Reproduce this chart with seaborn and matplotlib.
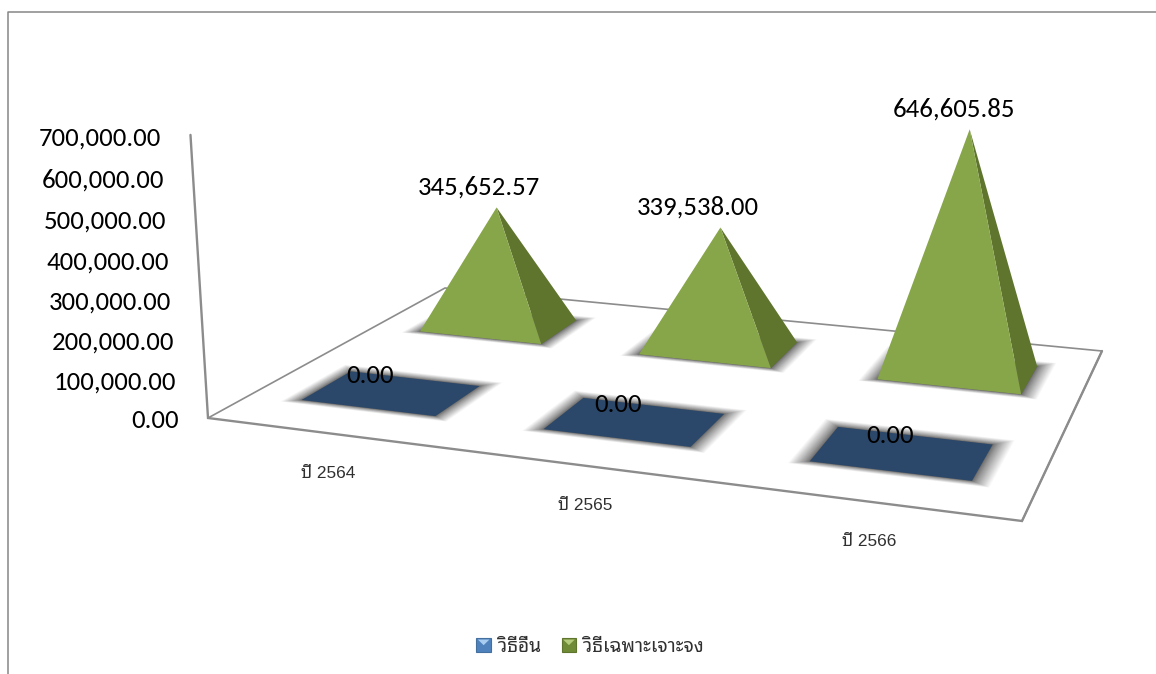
import numpy as np
import pandas as pd
import matplotlib
matplotlib.use("Agg")
import matplotlib.pyplot as plt
from matplotlib.font_manager import FontProperties
from matplotlib.legend_handler import HandlerBase
from matplotlib.patches import Patch, Polygon, Rectangle
import seaborn as sns

categories = ["ปี 2564", "ปี 2565", "ปี 2566"]
series_names = ["วิธีอื่น", "วิธีเฉพาะเจาะจง"]
other_values = [0.00, 0.00, 0.00]
specific_values = [345652.57, 339538.00, 646605.85]
y_ticks = [0, 100000, 200000, 300000, 400000, 500000, 600000, 700000]

Y_MAX = 700000
NUM_FONT = ["Carlito", "Open Sans"]
THAI_FONT = ["Liberation Sans", "Noto Sans Thai Looped"]
LINE_GREY = "#8c8c8c"

sns.set_theme(style="white")

df = pd.DataFrame({
    "category": categories * 2,
    "cat_idx": [0, 1, 2] * 2,
    "row_idx": [0] * 3 + [1] * 3,
    "value": other_values + specific_values,
})

# floor of the 3d box in pixels: front-left, front-right, back-right, back-left
FLOOR = [(208, 418), (1022, 521), (1102, 351), (445, 288)]
# how a full-height value moves a point in homogeneous coordinates
VERTICAL = np.array([-25.11247, -288.47205, -0.03984])


def floor_matrix(corners):
    uv = [(0, 0), (1, 0), (1, 1), (0, 1)]
    a, b = [], []
    for (u, v), (x, y) in zip(uv, corners):
        a.append([u, v, 1, 0, 0, 0, -u * x, -v * x])
        a.append([0, 0, 0, u, v, 1, -u * y, -v * y])
        b += [x, y]
    h = np.linalg.solve(np.array(a, float), np.array(b, float))
    return np.append(h, 1).reshape(3, 3)


H = floor_matrix(FLOOR)


def project(u, v, value=0.0):
    p = H @ np.array([u, v, 1.0]) + VERTICAL * value / Y_MAX
    return p[0] / p[2], p[1] / p[2]


fig = plt.figure(figsize=(11.56, 6.74), dpi=100)
ax = fig.add_axes([0, 0, 1, 1])
ax.set_xlim(0, 1156)
ax.set_ylim(674, 0)
ax.axis("off")

# chart border, cut off on the right and bottom
ax.plot([8, 8, 1156], [674, 12, 12], color="#868686", lw=1.1, zorder=1)

# floor and value axis
ax.plot(*zip(*[project(1, 0), project(1, 1), project(0, 1), project(0, 0)]),
        color=LINE_GREY, lw=1.2, solid_joinstyle="miter", zorder=2)
ax.plot(*zip(*[project(0, 0, Y_MAX), project(0, 0), project(1, 0), project(1, 1)]),
        color=LINE_GREY, lw=1.7, solid_joinstyle="miter", zorder=2)

for t in y_ticks:
    x, y = project(0, 0, t)
    ax.annotate(f"{t:,.2f}", (x, y), xytext=(-29, -3), textcoords="offset pixels", ha="right", va="center",
                family=NUM_FONT, fontsize=19.3, color="black", zorder=8)

for i, cat in enumerate(categories):
    ax.annotate(cat, project((i + .5) / 3, 0), xytext=(1, -40), textcoords="offset pixels", ha="center",
                va="center", family=THAI_FONT, fontsize=12.4, color="#303030", zorder=8)

HALF_U = 0.094
HALF_V = 0.097
BLUE = "#2b4769"
GREEN = "#87a549"
GREEN_SIDE = "#5f752e"
LABEL_DX = [[-22, -17, -12], [-18, -23, -16]]
LABEL_DY = [17, 20]
SHADOW_STEPS = 30

for _, r in df.iterrows():
    cu = (r["cat_idx"] + .5) / 3
    cv = (r["row_idx"] + .5) / 2
    # soft shadow: stacked see-through quads, packed closer near the shape
    for k in range(SHADOW_STEPS, 0, -1):
        t = (k / SHADOW_STEPS) ** 1.7
        mu = t * 0.022
        front = t * 0.022
        back = t * 0.036
        quad = [project(cu - HALF_U - mu, cv - HALF_V - front), project(cu + HALF_U + mu, cv - HALF_V - front),
                project(cu + HALF_U + mu, cv + HALF_V + back), project(cu - HALF_U - mu, cv + HALF_V + back)]
        ax.add_patch(Polygon(quad, closed=True, fc="black", ec="none", alpha=0.028, zorder=3))
    fl = project(cu - HALF_U, cv - HALF_V)
    fr = project(cu + HALF_U, cv - HALF_V)
    br = project(cu + HALF_U, cv + HALF_V)
    bl = project(cu - HALF_U, cv + HALF_V)
    top = project(cu, cv, r["value"])
    if r["value"] == 0:
        ax.add_patch(Polygon([fl, fr, br, bl], closed=True, fc=BLUE, ec="none", zorder=4))
    else:
        ax.add_patch(Polygon([fr, br, top], closed=True, fc=GREEN_SIDE, ec="none", zorder=5))
        ax.add_patch(Polygon([fl, fr, top], closed=True, fc=GREEN, ec="none", zorder=6))
    ax.annotate(f"{r['value']:,.2f}", top, xytext=(LABEL_DX[r["row_idx"]][r["cat_idx"]], LABEL_DY[r["row_idx"]]),
                textcoords="offset pixels", ha="center", va="center", family=NUM_FONT, fontsize=19.3, color="black",
                zorder=9)


class PyramidIcon(HandlerBase):
    def create_artists(self, legend, orig, xd, yd, width, height, fontsize, trans):
        x0, y0 = -xd, -yd
        box = Rectangle((x0, y0), width, height, fc=orig.get_facecolor(), ec=orig.get_edgecolor(), lw=.8,
                        transform=trans)
        tri = Polygon([(x0 + 1, y0 + height - 1), (x0 + width - 1, y0 + height - 1),
                       (x0 + width / 2, y0 + height / 2)], closed=True, fc=orig.get_gid(), ec="none",
                      transform=trans)
        return [box, tri]


icon_blue = Patch(fc="#4f81bd", ec="#44709f", gid="#a9cdf0")
icon_green = Patch(fc="#6f8b36", ec="#5f752e", gid="#b4cb7c")
ax.legend([icon_blue, icon_green], series_names, handler_map={Patch: PyramidIcon()}, ncol=2, loc="center",
          bbox_to_anchor=(590, 647), bbox_transform=ax.transData, frameon=False,
          prop=FontProperties(family=THAI_FONT, size=13.8), handlelength=.75, handleheight=.75, handletextpad=.35,
          columnspacing=1.1, labelcolor="#303030")

fig.savefig("out.png", dpi=100)
